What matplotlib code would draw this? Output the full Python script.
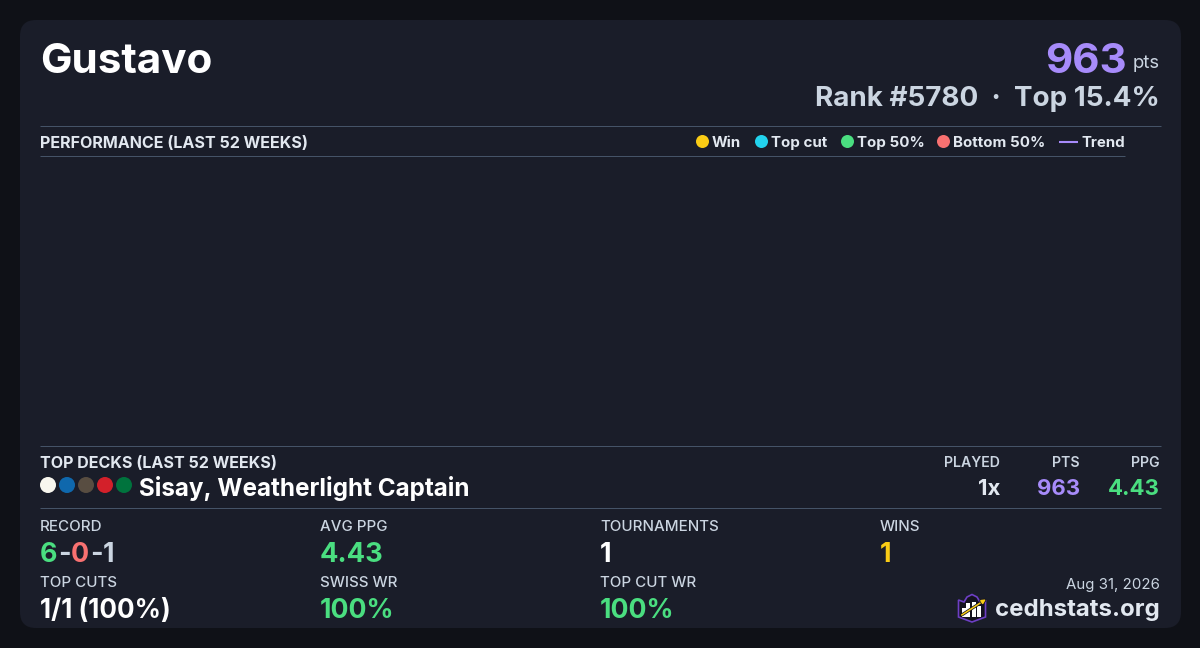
# -*- coding: utf-8 -*-
import matplotlib
matplotlib.use("Agg")
import matplotlib.pyplot as plt
import matplotlib.patheffects as pe
from matplotlib.patches import FancyBboxPatch, Circle, Polygon, Rectangle

plt.rcParams["font.family"] = ["Inter", "DejaVu Sans"]

BG, CARD = "#0f1117", "#1a1d29"
LINE = "#475569"
WHITE, LIGHT, MUTED = "#ffffff", "#e2e8f0", "#cbd5e1"
PURPLE, GREEN, RED, GOLD, CYAN = "#a78bfa", "#4ade80", "#f87171", "#facc15", "#22d3ee"

player = "Gustavo"
points = "963"
rank_text = "Rank #5780  ·  Top 15.4%"
chart_title = "PERFORMANCE (LAST 52 WEEKS)"
decks_title = "TOP DECKS (LAST 52 WEEKS)"

legend_labels = ["Win", "Top cut", "Top 50%", "Bottom 50%"]
legend_colors = [GOLD, CYAN, GREEN, RED]
legend_dot_x = [702.5, 761.5, 847.5, 943.5]
legend_text_x = [712, 771, 857, 953]

deck_name = "Sisay, Weatherlight Captain"
deck_colors = ["#f8f6ee", "#0f68ad", "#584d41", "#d3202a", "#00733d"]
deck_headers = ["PLAYED", "PTS", "PPG"]
deck_values = ["1x", "963", "4.43"]
deck_value_colors = [LIGHT, PURPLE, GREEN]
deck_col_x = [1000, 1080, 1160]

row1_labels = ["RECORD", "AVG PPG", "TOURNAMENTS", "WINS"]
row1_values = [None, "4.43", "1", "1"]
row1_colors = [None, GREEN, WHITE, GOLD]
row2_labels = ["TOP CUTS", "SWISS WR", "TOP CUT WR"]
row2_values = ["1/1 (100%)", "100%", "100%"]
row2_colors = [WHITE, GREEN, GREEN]
stat_x = [40, 320, 600, 880]
record_parts = ["6", "-", "0", "-", "1"]
record_colors = [GREEN, MUTED, RED, MUTED, MUTED]

date_text = "Aug 31, 2026"
site_text = "cedhstats.org"


def px(size):
    # css px -> pt at dpi 100
    return size * 72 / 100


fig = plt.figure(figsize=(12, 6.48), dpi=100, facecolor=BG)
ax = fig.add_axes([0, 0, 1, 1])
ax.set_xlim(0, 1200)
ax.set_ylim(648, 0)
ax.axis("off")

# card 20..1181 x 20..628, pad takes the corner radius
ax.add_patch(FancyBboxPatch((36, 36), 1129, 576,
                            boxstyle="round,pad=16,rounding_size=16", fc=CARD, ec="none"))


def label(x, y, s, size, color, weight=400, ha="left"):
    return ax.text(x, y, s, fontsize=px(size), color=color, fontweight=weight,
                   ha=ha, va="baseline")


def hline(x0, x1, y):
    ax.plot([x0, x1], [y, y], color=LINE, lw=0.7, solid_capstyle="butt")


# header
label(40, 73, player, 42.2, WHITE, 700)
label(1127, 73, points, 42, PURPLE, 700, "right")
label(1160, 68, "pts", 18.5, MUTED, 400, "right")
label(1160, 106, rank_text, 27.8, MUTED, 700, "right")

# chart section, no results drawn in the plot area
hline(40, 1160.5, 126)
hline(40, 1124.5, 156)
label(40, 148, chart_title, 16.1, LIGHT, 700)
for x, tx, s, c in zip(legend_dot_x, legend_text_x, legend_labels, legend_colors):
    ax.add_patch(Circle((x, 141.5), 6.5, fc=c, ec="none"))
    label(tx, 147, s, 15.1, LIGHT, 700)
ax.plot([1059, 1078], [141.5, 141.5], color=PURPLE, lw=1.5, solid_capstyle="butt")
label(1081, 147, "Trend", 15, LIGHT, 700)

# top decks
hline(40, 1160.5, 446)
hline(40, 1160.5, 508)
label(40, 468, decks_title, 16.1, LIGHT, 700)
for i, c in enumerate(deck_colors):
    ax.add_patch(Circle((48 + i * 19, 485), 8, fc=c, ec="none"))
label(139, 496, deck_name, 24.2, WHITE, 700)
for x, h, v, c in zip(deck_col_x, deck_headers, deck_values, deck_value_colors):
    label(x, 467, h, 14.1, MUTED, 600, "right")
    label(x, 495, v, 22.2, c, 700, "right")

# stats
for x, s in zip(stat_x, row1_labels):
    label(x, 531, s, 15.1, MUTED, 500)
cursor = stat_x[0]
for s, c in zip(record_parts, record_colors):
    t = label(cursor, 562, s, 26.8, c, 700)
    fig.canvas.draw()
    cursor += t.get_window_extent().width + 0.5
for x, v, c in zip(stat_x[1:], row1_values[1:], row1_colors[1:]):
    label(x, 562, v, 27.2, c, 700)
for x, s in zip(stat_x, row2_labels):
    label(x, 587, s, 15.1, MUTED, 500)
for x, v, c, size in zip(stat_x, row2_values, row2_colors, [26, 26.6, 26.6]):
    label(x, 618, v, size, c, 700)

# footer
label(1160, 589, date_text, 15, MUTED, 400, "right")
label(1160, 616, site_text, 24, LIGHT, 700, "right")

# logo
ax.add_patch(Polygon([(958.5, 600), (964, 602), (967, 597), (972, 594.5), (977, 597),
                      (980, 602), (985.5, 600), (985.5, 617), (972, 622), (958.5, 617)],
                     closed=True, fc="#14121f", ec="#6d3fc4", lw=1.2))
for bx, by in zip([961.7, 966.3, 971.7, 977.3], [608, 603, 601.7, 606]):
    ax.add_patch(Rectangle((bx, by), 3.8, 616.7 - by, fc=WHITE, ec="none"))
ax.annotate("", xy=(986, 599.3), xytext=(961.7, 615),
            arrowprops=dict(arrowstyle="-|>", color=GOLD, lw=1.1, mutation_scale=6,
                            shrinkA=0, shrinkB=0,
                            path_effects=[pe.withStroke(linewidth=2.2, foreground="#14121f")]))

fig.savefig("out.png", dpi=100, facecolor=BG)
